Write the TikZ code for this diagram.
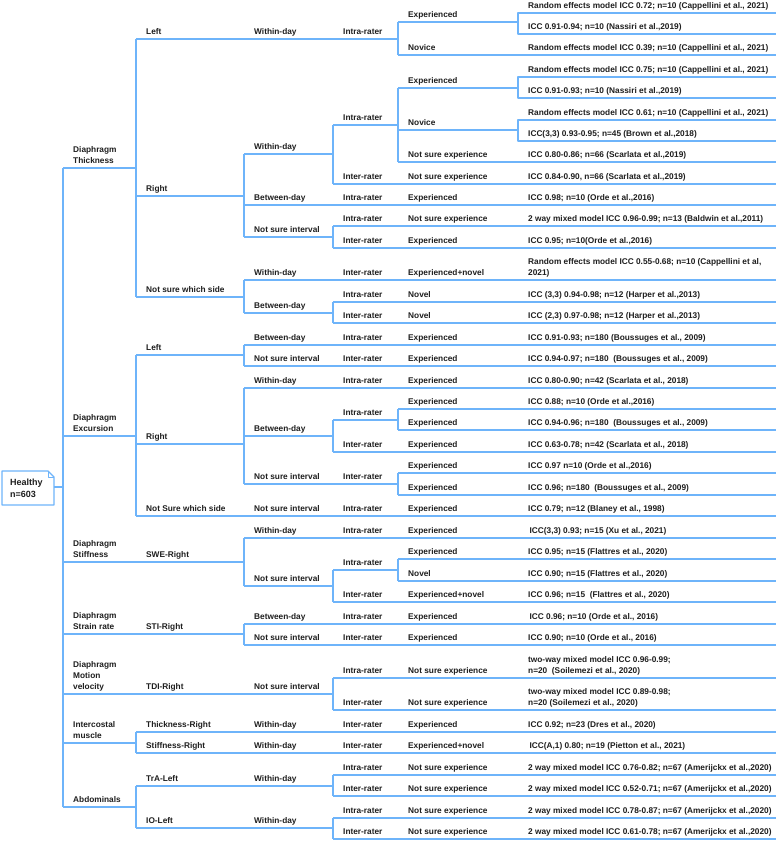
\documentclass[tikz,border=0pt]{standalone}
\usepackage{fontspec}
\setmainfont{Liberation Sans}
\usepackage{tikz}
\usepackage{xcolor}

\definecolor{treeblue}{RGB}{110,180,250}
\definecolor{treeink}{RGB}{30,30,30}

\tikzset{
    link/.style={treeblue, line width=1.3pt},
    lab/.style={anchor=south west, inner sep=0pt, text depth=0pt, align=left,
        xshift=10pt, yshift=4.8pt, text=treeink,
        font=\fontsize{8.3}{11}\selectfont\bfseries}
}

% a labelled branch: parent, name, column x, line y, label
\newcommand{\addbranch}[5]{%
    \coordinate (#2) at (#3,#4);
    \node[lab] (#2-t) at (#2) {#5};
    \draw[link] (#1) -| (#2);
}
% a result row in the last column, running to the right rim
\newcommand{\addresult}[4]{%
    \coordinate (#2) at (518,#3);
    \node[lab] (#2-t) at (#2) {#4};
    \draw[link] (#1) -| (#2) -- (#2 -| rim);
}

\begin{document}
\begin{tikzpicture}[x=1pt, y=-1pt, line join=round]

    \useasboundingbox (0,0) rectangle (777,841);
    \coordinate (rim) at (776,0);

    % ==========================================
    % ROOT NOTE
    % ==========================================

    \coordinate (hb) at (54,487);
    \draw[link, fill=white] (2,471) -- (48,471) -- (54,477) -- (54,505) -- (2,505) -- cycle;
    \draw[link, line width=0.8pt] (48,471) |- (54,477);
    \node[anchor=west, inner sep=0pt, align=left, text=treeink,
        font=\fontsize{9}{12}\selectfont\bfseries] (healthy) at (10,488.5) {Healthy\\n=603};

    % ==========================================
    % MEASURES
    % ==========================================

    \addbranch{hb}{thk}{63}{168}{Diaphragm\\Thickness}
    \addbranch{hb}{exc}{63}{436}{Diaphragm\\Excursion}
    \addbranch{hb}{stf}{63}{562}{Diaphragm\\Stiffness}
    \addbranch{hb}{srt}{63}{634}{Diaphragm\\Strain rate}
    \addbranch{hb}{mov}{63}{694}{Diaphragm\\Motion\\velocity}
    \addbranch{hb}{icm}{63}{743}{Intercostal\\muscle}
    \addbranch{hb}{abd}{63}{807}{Abdominals}

    % ==========================================
    % DIAPHRAGM THICKNESS
    % ==========================================

    \addbranch{thk}{thkL}{136}{39}{Left}
    \addbranch{thkL}{thkLw}{244}{39}{Within-day}
    \addbranch{thkLw}{thkLwa}{333}{39}{Intra-rater}
    \addbranch{thkLwa}{thkLwa1}{398}{22}{Experienced}
    \addresult{thkLwa1}{thkLwa1a}{13}{Random effects model ICC 0.72; n=10 (Cappellini et al., 2021)}
    \addresult{thkLwa1}{thkLwa1b}{34}{ICC 0.91-0.94; n=10 (Nassiri et al.,2019)}
    \addbranch{thkLwa}{thkLwa2}{398}{55}{Novice}
    \addresult{thkLwa2}{thkLwa2a}{55}{Random effects model ICC 0.39; n=10 (Cappellini et al., 2021)}

    \addbranch{thk}{thkR}{136}{196}{Right}
    \addbranch{thkR}{thkRw}{244}{154}{Within-day}
    \addbranch{thkRw}{thkRwa}{333}{125}{Intra-rater}
    \addbranch{thkRwa}{thkRwa1}{398}{88}{Experienced}
    \addresult{thkRwa1}{thkRwa1a}{77}{Random effects model ICC 0.75; n=10 (Cappellini et al., 2021)}
    \addresult{thkRwa1}{thkRwa1b}{98}{ICC 0.91-0.93; n=10 (Nassiri et al.,2019)}
    \addbranch{thkRwa}{thkRwa2}{398}{130}{Novice}
    \addresult{thkRwa2}{thkRwa2a}{120}{Random effects model ICC 0.61; n=10 (Cappellini et al., 2021)}
    \addresult{thkRwa2}{thkRwa2b}{141}{ICC(3,3) 0.93-0.95; n=45 (Brown et al.,2018)}
    \addbranch{thkRwa}{thkRwa3}{398}{162}{Not sure experience}
    \addresult{thkRwa3}{thkRwa3a}{162}{ICC 0.80-0.86; n=66 (Scarlata et al.,2019)}
    \addbranch{thkRw}{thkRwe}{333}{184}{Inter-rater}
    \addbranch{thkRwe}{thkRwe1}{398}{184}{Not sure experience}
    \addresult{thkRwe1}{thkRwe1a}{184}{ICC 0.84-0.90, n=66 (Scarlata et al.,2019)}
    \addbranch{thkR}{thkRb}{244}{205}{Between-day}
    \addbranch{thkRb}{thkRba}{333}{205}{Intra-rater}
    \addbranch{thkRba}{thkRba1}{398}{205}{Experienced}
    \addresult{thkRba1}{thkRba1a}{205}{ICC 0.98; n=10 (Orde et al.,2016)}
    \addbranch{thkR}{thkRn}{244}{237}{Not sure interval}
    \addbranch{thkRn}{thkRna}{333}{226}{Intra-rater}
    \addbranch{thkRna}{thkRna1}{398}{226}{Not sure experience}
    \addresult{thkRna1}{thkRna1a}{226}{2 way mixed model ICC 0.96-0.99; n=13 (Baldwin et al.,2011)}
    \addbranch{thkRn}{thkRne}{333}{248}{Inter-rater}
    \addbranch{thkRne}{thkRne1}{398}{248}{Experienced}
    \addresult{thkRne1}{thkRne1a}{248}{ICC 0.95; n=10(Orde et al.,2016)}

    \addbranch{thk}{thkN}{136}{297}{Not sure which side}
    \addbranch{thkN}{thkNw}{244}{280}{Within-day}
    \addbranch{thkNw}{thkNwe}{333}{280}{Inter-rater}
    \addbranch{thkNwe}{thkNwe1}{398}{280}{Experienced+novel}
    \addresult{thkNwe1}{thkNwe1a}{280}{Random effects model ICC 0.55-0.68; n=10 (Cappellini et al,\\2021)}
    \addbranch{thkN}{thkNb}{244}{313}{Between-day}
    \addbranch{thkNb}{thkNba}{333}{302}{Intra-rater}
    \addbranch{thkNba}{thkNba1}{398}{302}{Novel}
    \addresult{thkNba1}{thkNba1a}{302}{ICC (3,3) 0.94-0.98; n=12 (Harper et al.,2013)}
    \addbranch{thkNb}{thkNbe}{333}{323}{Inter-rater}
    \addbranch{thkNbe}{thkNbe1}{398}{323}{Novel}
    \addresult{thkNbe1}{thkNbe1a}{323}{ICC (2,3) 0.97-0.98; n=12 (Harper et al.,2013)}

    % ==========================================
    % DIAPHRAGM EXCURSION
    % ==========================================

    \addbranch{exc}{excL}{136}{355}{Left}
    \addbranch{excL}{excLb}{244}{345}{Between-day}
    \addbranch{excLb}{excLba}{333}{345}{Intra-rater}
    \addbranch{excLba}{excLba1}{398}{345}{Experienced}
    \addresult{excLba1}{excLba1a}{345}{ICC 0.91-0.93; n=180 (Boussuges et al., 2009)}
    \addbranch{excL}{excLn}{244}{366}{Not sure interval}
    \addbranch{excLn}{excLne}{333}{366}{Inter-rater}
    \addbranch{excLne}{excLne1}{398}{366}{Experienced}
    \addresult{excLne1}{excLne1a}{366}{ICC 0.94-0.97; n=180\ \ (Boussuges et al., 2009)}

    \addbranch{exc}{excR}{136}{444}{Right}
    \addbranch{excR}{excRw}{244}{388}{Within-day}
    \addbranch{excRw}{excRwa}{333}{388}{Intra-rater}
    \addbranch{excRwa}{excRwa1}{398}{388}{Experienced}
    \addresult{excRwa1}{excRwa1a}{388}{ICC 0.80-0.90; n=42 (Scarlata et al., 2018)}
    \addbranch{excR}{excRb}{244}{436}{Between-day}
    \addbranch{excRb}{excRba}{333}{420}{Intra-rater}
    \addbranch{excRba}{excRba1}{398}{409}{Experienced}
    \addresult{excRba1}{excRba1a}{409}{ICC 0.88; n=10 (Orde et al.,2016)}
    \addbranch{excRba}{excRba2}{398}{430}{Experienced}
    \addresult{excRba2}{excRba2a}{430}{ICC 0.94-0.96; n=180\ \ (Boussuges et al., 2009)}
    \addbranch{excRb}{excRbe}{333}{452}{Inter-rater}
    \addbranch{excRbe}{excRbe1}{398}{452}{Experienced}
    \addresult{excRbe1}{excRbe1a}{452}{ICC 0.63-0.78; n=42 (Scarlata et al., 2018)}
    \addbranch{excR}{excRn}{244}{484}{Not sure interval}
    \addbranch{excRn}{excRne}{333}{484}{Inter-rater}
    \addbranch{excRne}{excRne1}{398}{473}{Experienced}
    \addresult{excRne1}{excRne1a}{473}{ICC 0.97 n=10 (Orde et al.,2016)}
    \addbranch{excRne}{excRne2}{398}{495}{Experienced}
    \addresult{excRne2}{excRne2a}{495}{ICC 0.96; n=180\ \ (Boussuges et al., 2009)}

    \addbranch{exc}{excN}{136}{516}{Not Sure which side}
    \addbranch{excN}{excNn}{244}{516}{Not sure interval}
    \addbranch{excNn}{excNna}{333}{516}{Intra-rater}
    \addbranch{excNna}{excNna1}{398}{516}{Experienced}
    \addresult{excNna1}{excNna1a}{516}{ICC 0.79; n=12 (Blaney et al., 1998)}

    % ==========================================
    % STIFFNESS, STRAIN RATE, VELOCITY
    % ==========================================

    \addbranch{stf}{stfR}{136}{562}{SWE-Right}
    \addbranch{stfR}{stfRw}{244}{538}{Within-day}
    \addbranch{stfRw}{stfRwa}{333}{538}{Intra-rater}
    \addbranch{stfRwa}{stfRwa1}{398}{538}{Experienced}
    \addresult{stfRwa1}{stfRwa1a}{538}{\,ICC(3,3) 0.93; n=15 (Xu et al., 2021)}
    \addbranch{stfR}{stfRn}{244}{586}{Not sure interval}
    \addbranch{stfRn}{stfRna}{333}{570}{Intra-rater}
    \addbranch{stfRna}{stfRna1}{398}{559}{Experienced}
    \addresult{stfRna1}{stfRna1a}{559}{ICC 0.95; n=15 (Flattres et al., 2020)}
    \addbranch{stfRna}{stfRna2}{398}{581}{Novel}
    \addresult{stfRna2}{stfRna2a}{581}{ICC 0.90; n=15 (Flattres et al., 2020)}
    \addbranch{stfRn}{stfRne}{333}{602}{Inter-rater}
    \addbranch{stfRne}{stfRne1}{398}{602}{Experienced+novel}
    \addresult{stfRne1}{stfRne1a}{602}{ICC 0.96; n=15\ \ (Flattres et al., 2020)}

    \addbranch{srt}{srtR}{136}{634}{STI-Right}
    \addbranch{srtR}{srtRb}{244}{624}{Between-day}
    \addbranch{srtRb}{srtRba}{333}{624}{Intra-rater}
    \addbranch{srtRba}{srtRba1}{398}{624}{Experienced}
    \addresult{srtRba1}{srtRba1a}{624}{\,ICC 0.96; n=10 (Orde et al., 2016)}
    \addbranch{srtR}{srtRn}{244}{645}{Not sure interval}
    \addbranch{srtRn}{srtRne}{333}{645}{Inter-rater}
    \addbranch{srtRne}{srtRne1}{398}{645}{Experienced}
    \addresult{srtRne1}{srtRne1a}{645}{ICC 0.90; n=10 (Orde et al., 2016)}

    \addbranch{mov}{movR}{136}{694}{TDI-Right}
    \addbranch{movR}{movRn}{244}{694}{Not sure interval}
    \addbranch{movRn}{movRna}{333}{678}{Intra-rater}
    \addbranch{movRna}{movRna1}{398}{678}{Not sure experience}
    \addresult{movRna1}{movRna1a}{678}{two-way mixed model ICC 0.96-0.99;\\n=20\ \ (Soilemezi et al., 2020)}
    \addbranch{movRn}{movRne}{333}{710}{Inter-rater}
    \addbranch{movRne}{movRne1}{398}{710}{Not sure experience}
    \addresult{movRne1}{movRne1a}{710}{two-way mixed model ICC 0.89-0.98;\\n=20 (Soilemezi et al., 2020)}

    % ==========================================
    % INTERCOSTAL AND ABDOMINALS
    % ==========================================

    \addbranch{icm}{icmT}{136}{732}{Thickness-Right}
    \addbranch{icmT}{icmTw}{244}{732}{Within-day}
    \addbranch{icmTw}{icmTwe}{333}{732}{Inter-rater}
    \addbranch{icmTwe}{icmTwe1}{398}{732}{Experienced}
    \addresult{icmTwe1}{icmTwe1a}{732}{ICC 0.92; n=23 (Dres et al., 2020)}
    \addbranch{icm}{icmS}{136}{753}{Stiffness-Right}
    \addbranch{icmS}{icmSw}{244}{753}{Within-day}
    \addbranch{icmSw}{icmSwe}{333}{753}{Inter-rater}
    \addbranch{icmSwe}{icmSwe1}{398}{753}{Experienced+novel}
    \addresult{icmSwe1}{icmSwe1a}{753}{\,ICC(A,1) 0.80; n=19 (Pietton et al., 2021)}

    \addbranch{abd}{abdT}{136}{786}{TrA-Left}
    \addbranch{abdT}{abdTw}{244}{786}{Within-day}
    \addbranch{abdTw}{abdTwa}{333}{775}{Intra-rater}
    \addbranch{abdTwa}{abdTwa1}{398}{775}{Not sure experience}
    \addresult{abdTwa1}{abdTwa1a}{775}{2 way mixed model ICC 0.76-0.82; n=67 (Amerijckx et al.,2020)}
    \addbranch{abdTw}{abdTwe}{333}{796}{Inter-rater}
    \addbranch{abdTwe}{abdTwe1}{398}{796}{Not sure experience}
    \addresult{abdTwe1}{abdTwe1a}{796}{2 way mixed model ICC 0.52-0.71; n=67 (Amerijckx et al.,2020)}
    \addbranch{abd}{abdI}{136}{828}{IO-Left}
    \addbranch{abdI}{abdIw}{244}{828}{Within-day}
    \addbranch{abdIw}{abdIwa}{333}{818}{Intra-rater}
    \addbranch{abdIwa}{abdIwa1}{398}{818}{Not sure experience}
    \addresult{abdIwa1}{abdIwa1a}{818}{2 way mixed model ICC 0.78-0.87; n=67 (Amerijckx et al.,2020)}
    \addbranch{abdIw}{abdIwe}{333}{839}{Inter-rater}
    \addbranch{abdIwe}{abdIwe1}{398}{839}{Not sure experience}
    \addresult{abdIwe1}{abdIwe1a}{839}{2 way mixed model ICC 0.61-0.78; n=67 (Amerijckx et al.,2020)}

\end{tikzpicture}
\end{document}
